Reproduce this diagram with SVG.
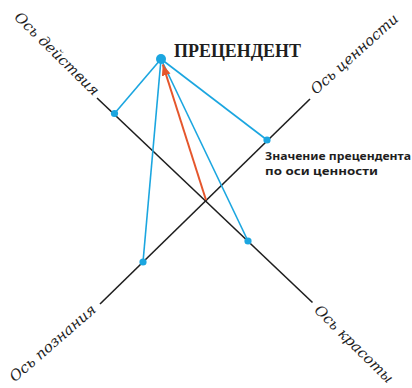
<svg xmlns="http://www.w3.org/2000/svg" width="412" height="388" viewBox="0 0 412 388">
  <style>
    .axis { stroke: #1e1e1e; stroke-width: 1.6; fill: none; }
    .proj { stroke: #1ba6e0; stroke-width: 1.6; fill: none; }
    .vec { stroke: #e5562c; stroke-width: 2; fill: none; }
    .dot { fill: #1ba6e0; }
    .axlabel { font-family: "DejaVu Serif", "Liberation Serif", serif; font-style: italic; font-size: 14.5px; fill: #1e1e1e; }
    .title { font-family: "Liberation Serif", "DejaVu Serif", serif; font-weight: bold; font-size: 18.5px; fill: #1e1e1e; }
    .note { font-family: "Noto Sans", "Liberation Sans", sans-serif; font-weight: bold; font-size: 11px; fill: #1e1e1e; }
  </style>
  <defs>
    <marker id="arrow" markerUnits="userSpaceOnUse" markerWidth="12" markerHeight="10" refX="11" refY="4.5" orient="auto">
      <path d="M0,0 L11,4.5 L0,9 Z" fill="#e5562c"/>
    </marker>
  </defs>

  <g id="connectors">
    <line class="axis" x1="97" y1="98" x2="312.5" y2="302.5"/>
    <line class="axis" x1="100" y1="304" x2="310" y2="99"/>
    <line class="proj" x1="161" y1="59" x2="114.5" y2="113.5"/>
    <line class="proj" x1="161" y1="59" x2="267" y2="140"/>
    <line class="proj" x1="161" y1="59" x2="143" y2="262"/>
    <line class="proj" x1="161" y1="59" x2="248" y2="241"/>
    <line class="vec" x1="206" y1="200" x2="162.8" y2="64.5" marker-end="url(#arrow)"/>
  </g>

  <g id="precedent">
    <circle class="dot" cx="161" cy="59" r="5"/>
    <text class="title" x="174" y="56.5" textLength="127" lengthAdjust="spacingAndGlyphs">ПРЕЦЕНДЕНТ</text>
  </g>

  <g id="value-point">
    <circle class="dot" cx="267" cy="140" r="3.6"/>
    <text class="note" x="265" y="160" textLength="146" lengthAdjust="spacingAndGlyphs">Значение прецендента</text>
    <text class="note" x="265" y="175" textLength="113" lengthAdjust="spacingAndGlyphs">по оси ценности</text>
  </g>

  <g id="action-point">
    <circle class="dot" cx="114.5" cy="113.5" r="3.6"/>
  </g>
  <g id="knowledge-point">
    <circle class="dot" cx="143" cy="262" r="3.6"/>
  </g>
  <g id="beauty-point">
    <circle class="dot" cx="248" cy="241" r="3.6"/>
  </g>

  <g id="axis-action">
    <text class="axlabel" transform="translate(93.5,96.5) rotate(44.5)" text-anchor="end" textLength="112" lengthAdjust="spacingAndGlyphs">Ось действия</text>
  </g>
  <g id="axis-value">
    <text class="axlabel" transform="translate(316,95) rotate(-42)" textLength="112" lengthAdjust="spacingAndGlyphs">Ось ценности</text>
  </g>
  <g id="axis-knowledge">
    <text class="axlabel" transform="translate(97,311) rotate(-41)" text-anchor="end" textLength="109" lengthAdjust="spacingAndGlyphs">Ось познания</text>
  </g>
  <g id="axis-beauty">
    <text class="axlabel" transform="translate(313.5,311) rotate(44.6)" textLength="104" lengthAdjust="spacingAndGlyphs">Ось красоты</text>
  </g>
</svg>
